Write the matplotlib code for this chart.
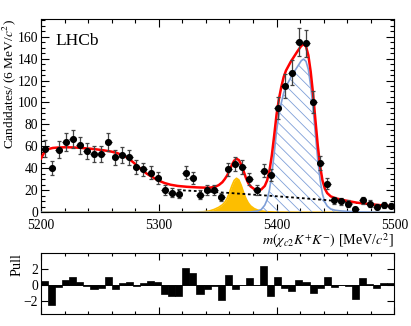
import numpy as np
import matplotlib.pyplot as plt
from matplotlib.ticker import MultipleLocator, NullFormatter

plt.rcParams['font.family'] = ['Liberation Serif', 'DejaVu Serif']
plt.rcParams['mathtext.fontset'] = 'stix'
plt.rcParams['hatch.linewidth'] = 0.6

# data: 6 MeV bins from 5200 to 5500
bin_edges = np.arange(5200, 5501, 6)
counts = [58, 40, 57, 64, 67, 61, 56, 53, 53, 64,
          50, 52, 50, 41, 39, 36, 31, 20, 18, 17,
          36, 31, 16, 20, 20, 14, 39, 44, 41, 30,
          20, 38, 34, 95, 115, 127, 155, 154, 100, 45,
          26, 11, 10, 8, 3, 11, 8, 5, 7, 6]
pulls = [0.51, -2.5, -0.25, 0.6, 0.97, 0.38, -0.18, -0.53, -0.4, 1.05,
         -0.55, 0.21, 0.42, -0.15, 0.23, 0.47, 0.34, -1.17, -1.33, -1.35,
         2.1, 1.5, -1.18, -0.55, -0.1, -1.87, 1.28, -0.47, -0.06, 0.84,
         0.02, 2.45, -1.45, 1.05, -0.32, -0.7, 0.66, 0.34, -0.97, -0.42,
         1.03, -0.3, 0.04, -0.12, -1.75, 0.82, 0.1, -0.32, 0.3, 0.19]

# total fit (red)
total_x = [5200, 5203, 5206, 5210, 5215, 5220, 5226, 5233, 5240, 5247,
           5254, 5260, 5265, 5270, 5274, 5278, 5282, 5286, 5290, 5295,
           5300, 5305, 5310, 5316, 5324, 5332, 5340, 5344, 5348, 5351,
           5354, 5356, 5358, 5360, 5362, 5364, 5366, 5368, 5370, 5372,
           5374, 5376, 5378, 5381, 5384, 5387, 5390, 5392, 5394, 5396,
           5398, 5400, 5402, 5404, 5406, 5408, 5410, 5412, 5415, 5418,
           5421, 5423, 5425, 5427, 5429, 5431, 5433, 5435, 5437, 5439,
           5441, 5443, 5446, 5450, 5455, 5460, 5468, 5476, 5484, 5492, 5500]
total_y = [49, 55, 57.5, 58.6, 59, 59.2, 59.1, 58.7, 58.1, 57.3,
           56.3, 55.2, 53.8, 51.6, 49.2, 45.8, 42, 38.2, 35, 31.8,
           28.8, 26.6, 25.1, 24, 23.2, 22.7, 22.4, 22.5, 23.3, 24.8,
           27.4, 30.2, 33.5, 37.8, 43, 47, 48.7, 47.6, 43.5, 37.5,
           31.3, 26.5, 23.5, 21.2, 20.2, 20.8, 24, 29, 38, 52,
           70, 89, 103, 114, 123, 129, 133, 137, 142, 147,
           151.5, 153, 151, 143, 128, 108, 84, 61, 42, 29,
           21.5, 17.5, 14.5, 12.8, 11.5, 10.4, 8.8, 7.8, 6.9, 6.1, 5.3]

# orange peak
peak_x = [5200, 5330, 5338, 5343, 5347, 5351, 5354, 5356, 5358, 5360,
          5362, 5364, 5366, 5368, 5370, 5372, 5374, 5376, 5378, 5381,
          5384, 5387, 5392, 5400, 5420, 5500]
peak_y = [0, 0.1, 0.5, 1.2, 2.6, 4.6, 6.8, 9, 12.5, 18,
          24, 29, 31, 29.5, 24.5, 18, 12.5, 8.5, 5.8, 3.4,
          2, 1.2, 0.5, 0.15, 0, 0]

# blue hatched signal
sig_x = [5200, 5370, 5378, 5384, 5387, 5390, 5392, 5394, 5396, 5398,
         5400, 5402, 5404, 5406, 5408, 5410, 5412, 5415, 5418, 5421,
         5423, 5425, 5427, 5429, 5431, 5433, 5435, 5437, 5439, 5441,
         5443, 5446, 5450, 5455, 5460, 5470, 5485, 5500]
sig_y = [0, 0, 0.3, 1.2, 2.5, 6.5, 11.5, 20.5, 35, 53.5,
         74, 88.5, 99.5, 108.5, 114.5, 118.5, 122.5, 128, 133, 138,
         139.5, 137.5, 130, 115, 95, 71, 48, 29.5, 16.5, 9.5,
         5.7, 3, 1.8, 1.2, 0.8, 0.4, 0.2, 0.1]

# dotted background
bkg_x = [5316, 5340, 5360, 5380, 5400, 5420, 5440, 5460, 5480, 5500]
bkg_y = [20.2, 18.9, 17.6, 16.1, 14.6, 13.0, 11.3, 9.4, 7.3, 5.2]

centers = (bin_edges[:-1] + bin_edges[1:]) / 2
counts = np.array(counts, dtype=float)
errs = np.sqrt(counts)

fig = plt.figure(figsize=(4.11, 3.26), dpi=100)
ax = fig.add_axes([0.0998, 0.3488, 0.8596, 0.5929])
axp = fig.add_axes([0.0998, 0.0359, 0.8596, 0.1871])

orange = '#FDBE00'
blue = '#7F9FD8'
fs = 9.8

ax.fill_between(peak_x, 0, peak_y, color=orange, lw=0, zorder=2)
ax.plot(peak_x, peak_y, color=orange, lw=1.2, zorder=2)
ax.fill_between(sig_x, 0, sig_y, facecolor='none', edgecolor=blue, hatch='\\\\\\', lw=0, zorder=3)
ax.plot(sig_x, sig_y, color=blue, lw=1.2, zorder=3)
ax.plot(bkg_x, bkg_y, color='black', lw=1.3, ls=(0, (1.5, 1.5)), zorder=4)
ax.plot(total_x, total_y, color='red', lw=1.8, zorder=5)

ax.errorbar(centers, counts, xerr=3, fmt='none', ecolor='black', elinewidth=0.9, zorder=6)
ax.errorbar(centers, counts, yerr=errs, fmt='o', color='black', ms=4.1,
            ecolor='#444444', elinewidth=0.9, capsize=1.5, capthick=0.9, zorder=7)

ax.set_xlim(5200, 5500)
ax.set_ylim(0, 176)
ax.xaxis.set_major_locator(MultipleLocator(100))
ax.xaxis.set_minor_locator(MultipleLocator(20))
ax.yaxis.set_major_locator(MultipleLocator(20))
ax.yaxis.set_minor_locator(MultipleLocator(5))
ax.tick_params(which='both', direction='in', top=True, right=True, labelsize=fs, width=0.8)
ax.tick_params(which='major', length=6)
ax.tick_params(which='minor', length=3)
ax.tick_params(axis='x', pad=5)
ax.tick_params(axis='y', pad=2)
for s in ax.spines.values():
    s.set_linewidth(0.8)

ax.set_ylabel(r'Candidates/ (6 MeV/$c^{2}$)', fontsize=9.6, loc='top')
ax.yaxis.set_label_coords(-0.066, 1.0)
ax.set_xlabel(r'$m(\chi_{c2}K^{+}K^{-})$ [MeV/$c^{2}$]', fontsize=10.2, loc='right')
ax.xaxis.set_label_coords(1.0, -0.1)
ax.text(0.04, 0.865, 'LHCb', transform=ax.transAxes, fontsize=12.5, va='baseline')

# pull panel
axp.bar(centers, pulls, width=6, color='black', edgecolor='black', lw=0.5)
axp.axhline(0, color='black', lw=0.6)
axp.set_xlim(5200, 5500)
axp.set_ylim(-3.7, 4.0)
axp.xaxis.set_major_locator(MultipleLocator(100))
axp.xaxis.set_minor_locator(MultipleLocator(20))
axp.xaxis.set_major_formatter(NullFormatter())
axp.set_yticks([-2, 0, 2])
axp.set_yticklabels(['\u22122', '0', '2'])
axp.tick_params(which='both', direction='in', top=True, right=True, labelsize=fs, width=0.8)
axp.tick_params(which='major', length=5)
axp.tick_params(which='minor', length=2.5)
axp.tick_params(axis='y', pad=2)
for s in axp.spines.values():
    s.set_linewidth(0.8)
axp.set_ylabel('Pull', fontsize=10.2, loc='top')
axp.yaxis.set_label_coords(-0.05, 1.0)

fig.savefig('out.png', dpi=100)
